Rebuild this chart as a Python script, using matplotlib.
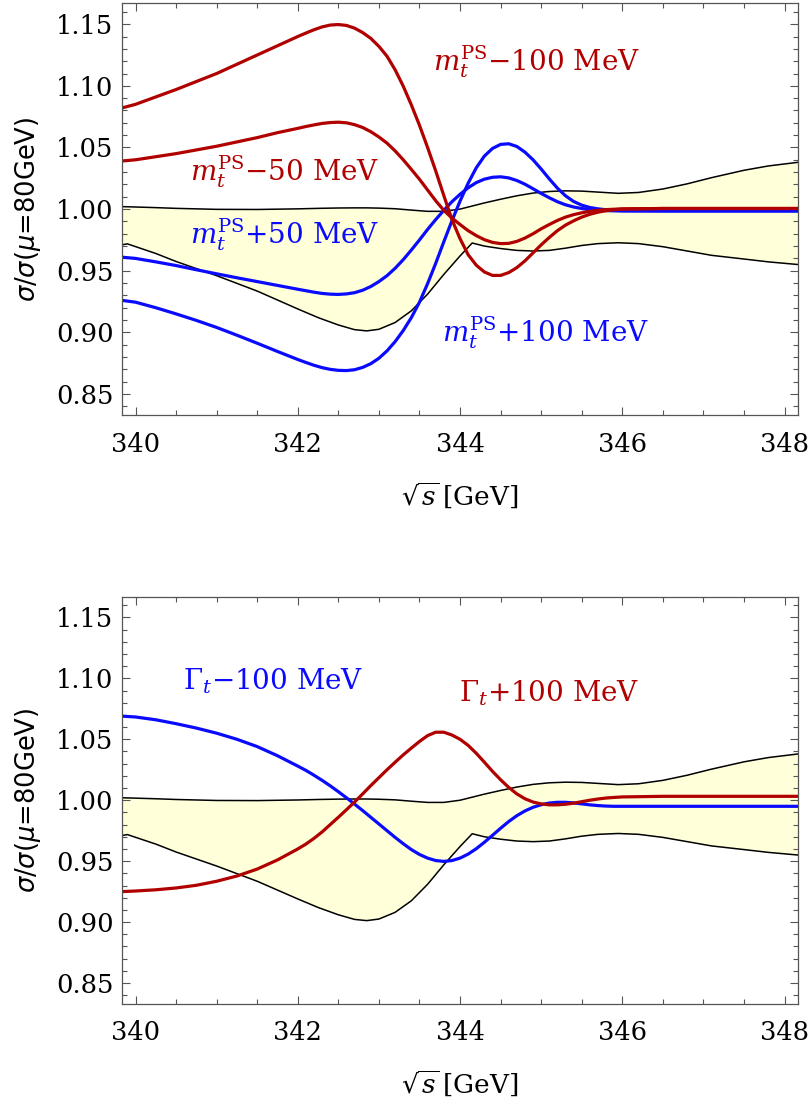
import numpy as np
import matplotlib
matplotlib.use("Agg")
import matplotlib.pyplot as plt
from matplotlib.ticker import MultipleLocator

plt.rcParams["mathtext.fontset"] = "dejavuserif"
plt.rcParams["font.family"] = "DejaVu Serif"

# sqrt(s) grid for the curves [GeV]
x = [339.83, 340.0, 340.25, 340.5, 340.75, 341.0, 341.25, 341.5, 341.75,
     342.0, 342.1, 342.2, 342.3, 342.4, 342.5, 342.6, 342.7, 342.8, 342.9,
     343.0, 343.1, 343.2, 343.3, 343.4, 343.5, 343.6, 343.7, 343.8, 343.9,
     344.0, 344.1, 344.2, 344.3, 344.4, 344.5, 344.6, 344.7, 344.8, 344.9,
     345.0, 345.1, 345.2, 345.3, 345.4, 345.5, 345.6, 345.7, 345.8, 345.9,
     346.0, 346.5, 347.0, 347.5, 348.0, 348.17]

# top panel: m_t^PS shifts
mt_m100 = [1.082, 1.085, 1.091, 1.097, 1.1035, 1.110, 1.1175, 1.125, 1.1325,
           1.140, 1.1428, 1.1455, 1.1478, 1.1493, 1.1497, 1.149, 1.1468, 1.1432, 1.1385,
           1.132, 1.124, 1.113, 1.0997, 1.0845, 1.068, 1.050, 1.031, 1.011, 0.9915,
           0.976, 0.963, 0.9545, 0.949, 0.9462, 0.9462, 0.9485, 0.9525, 0.958, 0.9645,
           0.971, 0.977, 0.9825, 0.987, 0.9905, 0.9935, 0.9958, 0.9975, 0.9987, 0.9995,
           1.000, 1.0005, 1.0005, 1.0005, 1.0005, 1.0005]
mt_m50 = [1.039, 1.040, 1.0425, 1.045, 1.048, 1.051, 1.0545, 1.058, 1.062,
          1.0655, 1.067, 1.0683, 1.0695, 1.0702, 1.0705, 1.070, 1.0685, 1.0662, 1.0628,
          1.0585, 1.0535, 1.0472, 1.040, 1.0322, 1.0242, 1.0155, 1.0068, 0.999, 0.9928,
          0.9875, 0.9825, 0.9785, 0.9752, 0.973, 0.972, 0.9722, 0.9738, 0.9765, 0.980,
          0.984, 0.9875, 0.9908, 0.9935, 0.9955, 0.997, 0.9982, 0.999, 0.9996, 0.9999,
          1.0002, 1.0005, 1.0005, 1.0005, 1.0005, 1.0005]
mt_p50 = [0.961, 0.960, 0.9572, 0.9542, 0.9508, 0.9475, 0.9443, 0.9412, 0.9381,
          0.935, 0.9338, 0.9326, 0.9316, 0.931, 0.9308, 0.9312, 0.9322, 0.9342, 0.9372,
          0.9412, 0.946, 0.952, 0.959, 0.9668, 0.975, 0.9835, 0.9915, 0.999, 1.006,
          1.012, 1.0173, 1.0215, 1.0243, 1.0258, 1.0262, 1.0253, 1.0232, 1.0202, 1.0165,
          1.0127, 1.0092, 1.006, 1.0035, 1.0017, 1.0005, 0.9996, 0.9991, 0.9988, 0.9986,
          0.9985, 0.9985, 0.9985, 0.9985, 0.9985, 0.9985]
mt_p100 = [0.926, 0.9245, 0.920, 0.915, 0.9097, 0.904, 0.8977, 0.8912, 0.8845,
           0.878, 0.8756, 0.8733, 0.8714, 0.870, 0.8692, 0.869, 0.8697, 0.8716, 0.8746,
           0.879, 0.885, 0.8925, 0.9015, 0.912, 0.9245, 0.9395, 0.956, 0.9735, 0.9905,
           1.0065, 1.021, 1.0335, 1.043, 1.0492, 1.0525, 1.053, 1.0508, 1.0462, 1.040,
           1.0325, 1.0245, 1.017, 1.0108, 1.0062, 1.0032, 1.0013, 1.0002, 0.9995, 0.999,
           0.9987, 0.9985, 0.9985, 0.9985, 0.9985, 0.9985]

# bottom panel: Gamma_t shifts
gt_m100 = [1.069, 1.0683, 1.066, 1.0628, 1.0592, 1.055, 1.050, 1.044, 1.0365,
           1.028, 1.0245, 1.0205, 1.0163, 1.0118, 1.007, 1.002, 0.9968, 0.9915, 0.986,
           0.9805, 0.975, 0.9695, 0.9643, 0.9595, 0.9555, 0.9525, 0.9505, 0.9498, 0.9505,
           0.9525, 0.9558, 0.9602, 0.9655, 0.9712, 0.977, 0.9825, 0.9873, 0.9912, 0.9942,
           0.9963, 0.9977, 0.9983, 0.9983, 0.9978, 0.997, 0.9962, 0.9956, 0.9952, 0.995,
           0.995, 0.995, 0.995, 0.995, 0.995, 0.995]
gt_p100 = [0.925, 0.9255, 0.9265, 0.928, 0.9302, 0.9335, 0.9378, 0.9435, 0.951,
           0.960, 0.964, 0.9687, 0.974, 0.980, 0.986, 0.9922, 0.9985, 1.0052, 1.012,
           1.0185, 1.025, 1.0312, 1.0372, 1.0428, 1.0482, 1.053, 1.0558, 1.0558, 1.0535,
           1.050, 1.045, 1.0385, 1.0312, 1.0237, 1.0168, 1.0105, 1.0052, 1.0012, 0.9985,
           0.997, 0.9962, 0.9962, 0.9967, 0.9976, 0.9988, 1.000, 1.001, 1.0018, 1.0023,
           1.0027, 1.0032, 1.0032, 1.0032, 1.0032, 1.0032]

# scale variation band
band_x = [339.83, 339.9, 340.25, 340.5, 341.0, 341.5, 342.0, 342.25, 342.5, 342.7,
          342.85, 343.0, 343.2, 343.4, 343.6, 343.8, 344.0, 344.15, 344.3, 344.5,
          344.7, 344.9, 345.1, 345.3, 345.5, 345.7, 345.95, 346.2, 346.5, 346.8,
          347.1, 347.5, 347.8, 348.17]
band_hi = [1.002, 1.0019, 1.0012, 1.0006, 0.9998, 0.9997, 1.0002, 1.0006, 1.0009, 1.001,
           1.001, 1.0008, 1.0003, 0.9992, 0.9982, 0.9982, 1.000, 1.0025, 1.005, 1.008,
           1.0108, 1.013, 1.0143, 1.0148, 1.0146, 1.0138, 1.0128, 1.0135, 1.0163, 1.0205,
           1.0255, 1.0315, 1.035, 1.038]
band_lo = [0.971, 0.9718, 0.964, 0.9575, 0.946, 0.9335, 0.919, 0.912, 0.906, 0.9022,
           0.9012, 0.9025, 0.908, 0.9175, 0.931, 0.947, 0.962, 0.9725, 0.970, 0.968,
           0.9665, 0.966, 0.9665, 0.9683, 0.9705, 0.972, 0.9727, 0.972, 0.9695, 0.966,
           0.9625, 0.9595, 0.9572, 0.955]

RED = "#B00000"
BLUE = "#0A0AFF"
FILL = "#FFFFD9"
FRAME = "#555555"


def setup(ax):
    ax.fill_between(band_x, band_lo, band_hi, color=FILL, lw=0)
    ax.plot(band_x, band_hi, color="black", lw=1.1)
    ax.plot(band_x, band_lo, color="black", lw=1.1)
    ax.set_xlim(339.83, 348.17)
    ax.set_ylim(0.833, 1.167)
    ax.xaxis.set_major_locator(MultipleLocator(2))
    ax.xaxis.set_minor_locator(MultipleLocator(0.5))
    ax.yaxis.set_major_locator(MultipleLocator(0.05))
    ax.yaxis.set_minor_locator(MultipleLocator(0.01))
    ax.yaxis.set_major_formatter(plt.FuncFormatter(lambda v, p: f"{v:.2f}"))
    ax.tick_params(which="both", direction="in", top=True, right=True,
                   color=FRAME, width=0.8)
    ax.tick_params(which="major", length=6, labelsize=18.5)
    ax.tick_params(which="minor", length=3.6)
    ax.tick_params(axis="x", pad=12)
    ax.tick_params(axis="y", pad=6)
    for s in ax.spines.values():
        s.set_color(FRAME)
        s.set_linewidth(0.9)
    ax.set_ylabel(r"$\sigma/\sigma(\mu$=80GeV)", fontsize=18.5, family="DejaVu Sans",
                  math_fontfamily="dejavusans", va="center")
    ax.yaxis.set_label_coords(-0.1385, 0.5)
    ax.set_xlabel(r"$\sqrt{s}\,$[GeV]", fontsize=19, va="center")
    ax.xaxis.set_label_coords(0.5, -0.196)


fig = plt.figure(figsize=(8.12, 11.17), dpi=100)
ax1 = fig.add_axes([0.1499, 0.6285, 0.8333, 0.3686])
ax2 = fig.add_axes([0.1499, 0.1014, 0.8333, 0.3644])

setup(ax1)
ax1.plot(x, mt_p100, color=BLUE, lw=2.3)
ax1.plot(x, mt_p50, color=BLUE, lw=2.3)
ax1.plot(x, mt_m100, color=RED, lw=2.3)
ax1.plot(x, mt_m50, color=RED, lw=2.3)
ax1.text(343.67, 1.120, r"$m_t^{\rm PS}$−100 MeV", color=RED, fontsize=20, va="center")
ax1.text(340.67, 1.030, r"$m_t^{\rm PS}$−50 MeV", color=RED, fontsize=20, va="center")
ax1.text(340.67, 0.9795, r"$m_t^{\rm PS}$+50 MeV", color=BLUE, fontsize=20, va="center")
ax1.text(343.78, 0.900, r"$m_t^{\rm PS}$+100 MeV", color=BLUE, fontsize=20, va="center")

setup(ax2)
ax2.plot(x, gt_m100, color=BLUE, lw=2.3)
ax2.plot(x, gt_p100, color=RED, lw=2.3)
ax2.text(340.59, 1.0977, r"$\Gamma_t$−100 MeV", color=BLUE, fontsize=20, va="center")
ax2.text(343.99, 1.088, r"$\Gamma_t$+100 MeV", color=RED, fontsize=20, va="center")

fig.savefig("out.png", dpi=100)
